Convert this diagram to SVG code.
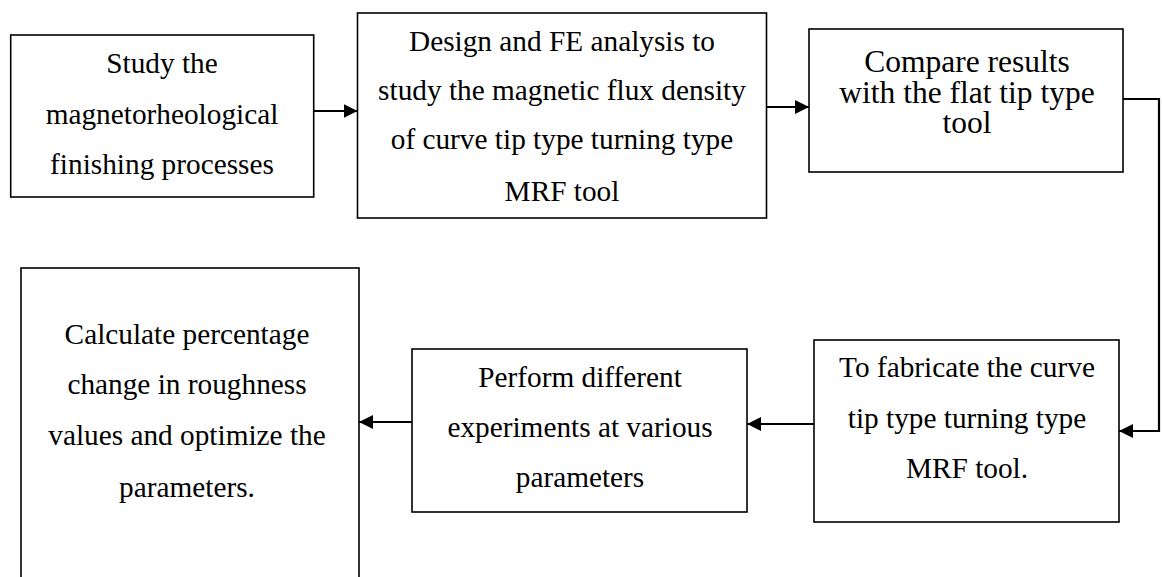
<svg xmlns="http://www.w3.org/2000/svg" width="1162" height="577" viewBox="0 0 1162 577">
<style>
.box{fill:#fff;stroke:#000;stroke-width:1.6}
.t{font-family:"Liberation Serif","Times New Roman",serif;font-size:29.3px;fill:#000;text-anchor:middle}
.t3{font-size:31.5px}
.c{fill:none;stroke:#000;stroke-width:2.2}
</style>
<defs>
<marker id="ah" markerUnits="userSpaceOnUse" markerWidth="15" markerHeight="14" refX="14" refY="7" orient="auto">
<path d="M0,0 L14,7 L0,14 Z" fill="#000"/>
</marker>
</defs>
<rect width="1162" height="577" fill="#fff"/>
<g id="n1">
<rect class="box" x="10.7" y="35" width="303" height="162"/>
<text class="t" x="162" y="73">Study the</text>
<text class="t" x="162" y="123.5">magnetorheological</text>
<text class="t" x="162" y="174">finishing processes</text>
</g>
<g id="n2">
<rect class="box" x="357.5" y="13" width="409" height="205"/>
<text class="t" x="562" y="51">Design and FE analysis to</text>
<text class="t" x="562" y="100">study the magnetic flux density</text>
<text class="t" x="562" y="149">of curve tip type turning type</text>
<text class="t" x="562" y="201">MRF tool</text>
</g>
<g id="n3">
<rect class="box" x="809" y="29" width="314" height="143"/>
<text class="t t3" x="967" y="72">Compare results</text>
<text class="t t3" x="967" y="102.5">with the flat tip type</text>
<text class="t t3" x="967" y="133">tool</text>
</g>
<g id="n4">
<rect class="box" x="21" y="268" width="338" height="330"/>
<text class="t" x="187" y="344">Calculate percentage</text>
<text class="t" x="187" y="394">change in roughness</text>
<text class="t" x="187" y="445">values and optimize the</text>
<text class="t" x="187" y="497">parameters.</text>
</g>
<g id="n5">
<rect class="box" x="412" y="349" width="335" height="163"/>
<text class="t" x="580" y="387">Perform different</text>
<text class="t" x="580" y="437">experiments at various</text>
<text class="t" x="580" y="487">parameters</text>
</g>
<g id="n6">
<rect class="box" x="814" y="340" width="305" height="182"/>
<text class="t" x="967" y="377">To fabricate the curve</text>
<text class="t" x="967" y="428">tip type turning type</text>
<text class="t" x="967" y="478">MRF tool.</text>
</g>
<g id="connectors">
<path class="c" d="M313.7,111 H357.5" marker-end="url(#ah)"/>
<path class="c" d="M766.5,107 H809" marker-end="url(#ah)"/>
<path class="c" d="M1123,99 H1159 V431 H1119" marker-end="url(#ah)"/>
<path class="c" d="M814,424 H747" marker-end="url(#ah)"/>
<path class="c" d="M412,422 H359" marker-end="url(#ah)"/>
</g>
</svg>
